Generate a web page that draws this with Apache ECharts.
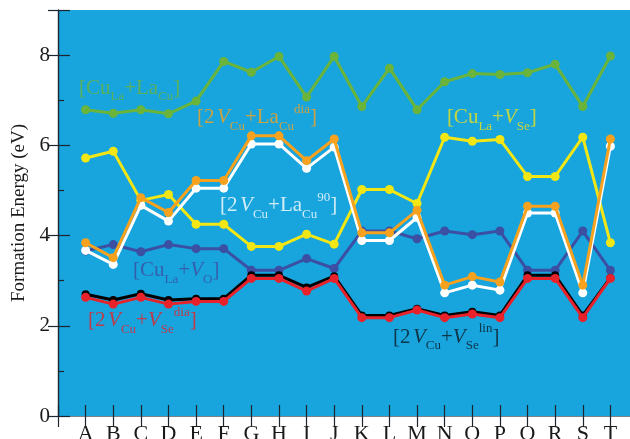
<!DOCTYPE html>
<html>
<head>
<meta charset="utf-8">
<script src="https://cdn.jsdelivr.net/npm/echarts@6/dist/echarts.min.js"></script>
<style>
  html, body { margin: 0; padding: 0; background: #ffffff; }
  #chart { width: 630px; height: 439px; }
</style>
</head>
<body>
<div id="chart"></div>
<script>
// Configurations A..T along the x axis
const categories = ['A','B','C','D','E','F','G','H','I','J','K','L','M','N','O','P','Q','R','S','T'];

// Formation energies (eV) for each defect complex
const cuLaLaCu   = [6.79, 6.71, 6.79, 6.70, 6.98, 7.86, 7.62, 7.97, 7.07, 7.97, 6.86, 7.71, 6.79, 7.41, 7.59, 7.57, 7.61, 7.80, 6.86, 7.98];
const cuLaVSe    = [5.72, 5.87, 4.78, 4.91, 4.25, 4.25, 3.76, 3.76, 4.03, 3.81, 5.02, 5.02, 4.71, 6.18, 6.09, 6.13, 5.31, 5.31, 6.18, 3.84];
const cuLaVO     = [3.66, 3.80, 3.64, 3.80, 3.71, 3.71, 3.23, 3.23, 3.49, 3.27, 4.10, 4.10, 3.93, 4.10, 4.02, 4.10, 3.23, 3.23, 4.10, 3.23];
const vCuLa90    = [3.67, 3.36, 4.67, 4.32, 5.05, 5.05, 6.03, 6.03, 5.49, 5.96, 3.89, 3.89, 4.40, 2.73, 2.90, 2.79, 4.50, 4.50, 2.73, 5.98];
const vCuLaDia   = [3.84, 3.51, 4.84, 4.51, 5.22, 5.22, 6.21, 6.21, 5.66, 6.14, 4.06, 4.06, 4.56, 2.90, 3.09, 2.97, 4.65, 4.65, 2.90, 6.14];
const vCuVSeLin  = [2.70, 2.57, 2.71, 2.57, 2.60, 2.60, 3.12, 3.12, 2.85, 3.10, 2.23, 2.23, 2.38, 2.23, 2.31, 2.23, 3.12, 3.12, 2.23, 3.06];
const vCuVSeDia  = [2.63, 2.48, 2.63, 2.48, 2.54, 2.54, 3.05, 3.05, 2.77, 3.05, 2.18, 2.18, 2.35, 2.18, 2.26, 2.18, 3.05, 3.05, 2.18, 3.05];

// Y axis ticks
const yTicks = [0, 2, 4, 6, 8];

const SERIF = '"Liberation Serif", "DejaVu Serif", serif';
const INK = '#1c2530';

const colors = {
  green: '#6ab43c',
  yellow: '#f2e614',
  slate: '#3b4fa3',
  white: '#ffffff',
  orange: '#f7a21e',
  black: '#000000',
  red: '#e8222a'
};

// place each value at x = 1..20
function pts(arr) { return arr.map((v, i) => [i + 1, v]); }

function lineSeries(name, arr, color, size, z) {
  return {
    name: name,
    type: 'line',
    data: pts(arr),
    symbol: 'circle',
    symbolSize: size,
    showSymbol: true,
    lineStyle: { color: color, width: 3 },
    itemStyle: { color: color },
    z: z,
    silent: true,
    animation: false
  };
}

// Rich-text styles for the bracketed defect labels
const rich = {
  b:   { fontFamily: SERIF, fontSize: 21, lineHeight: 30 },
  s:   { fontFamily: SERIF, fontSize: 10, lineHeight: 30 },
  i:   { fontFamily: SERIF, fontSize: 21, lineHeight: 30, fontStyle: 'italic' },
  sub: { fontFamily: SERIF, fontSize: 13, lineHeight: 13, verticalAlign: 'bottom' },
  sup: { fontFamily: SERIF, fontSize: 13, lineHeight: 13, verticalAlign: 'top' }
};

// Label anchors in data coordinates (left edge, text middle)
const labelItems = [
  { value: [0.76, 7.27], text: '{b|[Cu}{sub|La}{b|+La}{sub|Cu}{b|]}', color: colors.green },
  { value: [5.03, 6.61], text: '{b|[2}{s| }{i|V}{sub|Cu}{b|+La}{sub|Cu}{sup|dia}{b|]}', color: colors.orange },
  { value: [5.87, 4.66], text: '{b|[2}{s| }{i|V}{sub|Cu}{b|+La}{sub|Cu}{sup|90}{b|]}', color: colors.white },
  { value: [14.08, 6.61], text: '{b|[Cu}{sub|La}{b|+}{i|V}{sub|Se}{b|]}', color: '#eee21a' },
  { value: [2.72, 3.22], text: '{b|[Cu}{sub|La}{b|+}{i|V}{sub|O}{b|]}', color: colors.slate },
  { value: [1.09, 2.11], text: '{b|[2}{s| }{i|V}{sub|Cu}{b|+}{i|V}{sub|Se}{sup|dia}{b|]}', color: colors.red },
  { value: [12.13, 1.75], text: '{b|[2}{s| }{i|V}{sub|Cu}{b|+}{i|V}{sub|Se}{sup|lin}{b|]}', color: '#0d1a26' }
];

const chart = echarts.init(document.getElementById('chart'), null, { renderer: 'canvas' });

const tickStyle = { color: INK, width: 1.2 };

chart.setOption({
  animation: false,
  backgroundColor: '#ffffff',
  grid: {
    left: 58, top: 10, right: -8, bottom: 23,
    outerBoundsMode: 'none',
    containLabel: false,
    show: true,
    backgroundColor: '#18a4dc',
    borderWidth: 0
  },
  xAxis: [
    {
      type: 'value', min: 0, max: 21, interval: 1,
      position: 'bottom',
      axisLine: { show: true, lineStyle: { color: INK, width: 1.2 } },
      axisTick: { show: true, inside: true, length: 11, lineStyle: tickStyle },
      splitLine: { show: false },
      axisLabel: {
        margin: 7,
        fontFamily: SERIF, fontSize: 22, color: '#1a1a1a',
        formatter: v => (v >= 1 && v <= categories.length) ? categories[v - 1] : ''
      }
    },
    {
      type: 'value', min: 0, max: 21, interval: 1,
      position: 'top',
      axisLine: { show: true, lineStyle: { color: '#7a8288', width: 1.2 } },
      axisTick: { show: true, inside: true, length: 11, lineStyle: tickStyle },
      splitLine: { show: false },
      axisLabel: { show: false }
    }
  ],
  yAxis: [
    {
      type: 'value', min: 0, max: 9, interval: 2,
      position: 'left',
      name: 'Formation Energy (eV)',
      nameLocation: 'middle',
      nameGap: 24,
      nameTextStyle: { fontFamily: SERIF, fontSize: 19, color: '#1a1a1a' },
      axisLine: { show: true, lineStyle: { color: INK, width: 1.2 } },
      axisTick: { show: true, inside: true, length: 12, lineStyle: tickStyle },
      minorTick: { show: true, splitNumber: 2, length: 6, lineStyle: tickStyle },
      splitLine: { show: false },
      axisLabel: {
        margin: 8,
        fontFamily: SERIF, fontSize: 21, color: '#1a1a1a',
        formatter: v => yTicks.includes(v) ? String(v) : ''
      }
    },
    {
      type: 'value', min: 0, max: 9, interval: 2,
      position: 'right',
      axisLine: { show: true, lineStyle: { color: INK, width: 1.2 } },
      axisTick: { show: true, inside: true, length: 10, lineStyle: tickStyle },
      splitLine: { show: false },
      axisLabel: { show: false }
    }
  ],
  series: [
    lineSeries('[CuLa+LaCu]', cuLaLaCu, colors.green, 9, 2),
    lineSeries('[CuLa+VO]', cuLaVO, colors.slate, 9, 3),
    lineSeries('[CuLa+VSe]', cuLaVSe, colors.yellow, 9, 4),
    lineSeries('[2VCu+LaCu 90]', vCuLa90, colors.white, 9, 5),
    lineSeries('[2VCu+LaCu dia]', vCuLaDia, colors.orange, 9, 6),
    lineSeries('[2VCu+VSe lin]', vCuVSeLin, colors.black, 8, 7),
    lineSeries('[2VCu+VSe dia]', vCuVSeDia, colors.red, 9, 8),
    {
      type: 'scatter',
      symbolSize: 0,
      silent: true,
      z: 10,
      data: labelItems.map(it => ({
        value: it.value,
        label: {
          show: true,
          position: 'right',
          distance: 0,
          formatter: it.text,
          color: it.color,
          rich: rich
        }
      }))
    }
  ]
});
</script>
</body>
</html>
